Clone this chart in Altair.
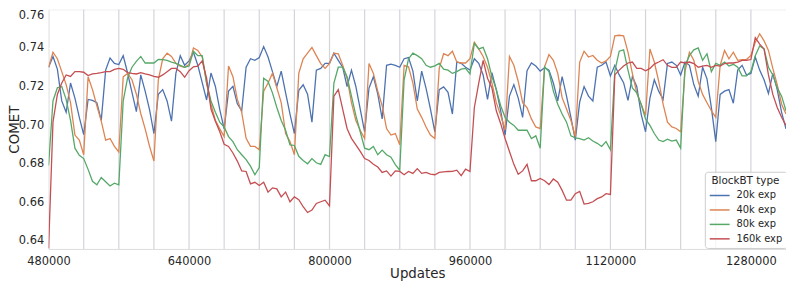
import altair as alt
import pandas as pd

# ---------------- data ----------------
start_update = 480000
step_update = 5000
series_names = ["20k exp", "40k exp", "80k exp", "160k exp"]
series_colors = ["#4c72b0", "#dd8452", "#55a868", "#c44e52"]

blue = [0.730, 0.7356, 0.729, 0.7125, 0.7066, 0.7218, 0.714, 0.704, 0.695,
        0.7133, 0.7128, 0.7116, 0.7024, 0.7285, 0.7348, 0.732, 0.7314,
        0.736, 0.727, 0.717, 0.707, 0.726, 0.7176, 0.708, 0.6956,
        0.716, 0.7184, 0.7125, 0.702, 0.7268, 0.736, 0.731, 0.7333,
        0.7378, 0.731, 0.722, 0.713, 0.727, 0.72, 0.708, 0.698,
        0.7176, 0.7201, 0.711, 0.7074, 0.730, 0.7344, 0.7336, 0.735,
        0.7407, 0.7353, 0.7277, 0.72, 0.728, 0.7167, 0.7057, 0.6956,
        0.718, 0.7209, 0.716, 0.7015, 0.7285, 0.7294, 0.732, 0.732,
        0.7373, 0.7336, 0.730, 0.72, 0.7285, 0.72, 0.7083, 0.6965,
        0.7192, 0.7251, 0.716, 0.7032, 0.731, 0.7316, 0.731, 0.730,
        0.7344, 0.735, 0.728, 0.7125, 0.728, 0.719, 0.7083, 0.6965,
        0.7184, 0.7198, 0.717, 0.7057, 0.7328, 0.732, 0.730, 0.7285,
        0.7344, 0.732, 0.726, 0.7133, 0.7272, 0.7184, 0.7074, 0.6948,
        0.715, 0.721, 0.714, 0.704, 0.7282, 0.7322, 0.7306, 0.728,
        0.7297, 0.7285, 0.7218, 0.7125, 0.7251, 0.715, 0.704, 0.6922,
        0.712, 0.72, 0.715, 0.7125, 0.730, 0.731, 0.7327, 0.7255,
        0.731, 0.726, 0.722, 0.7128, 0.7251, 0.72, 0.7057, 0.6965,
        0.714, 0.7235, 0.7176, 0.7133, 0.732, 0.7327, 0.731, 0.726,
        0.7327, 0.731, 0.721, 0.715, 0.730, 0.724, 0.709, 0.6914,
        0.7159, 0.7176, 0.7184, 0.7113, 0.7285, 0.731, 0.726, 0.7268,
        0.7353, 0.7285, 0.7235, 0.7164, 0.7268, 0.7184, 0.7066, 0.698]

orange = [0.730, 0.7378, 0.7344, 0.7277, 0.721, 0.7116, 0.6948, 0.6922, 0.6846,
          0.7251, 0.7184, 0.71, 0.702, 0.6922, 0.693, 0.6889, 0.686,
          0.725, 0.7268, 0.7235, 0.716, 0.706, 0.698, 0.689, 0.6813,
          0.7235, 0.7344, 0.7373, 0.7356, 0.732, 0.7306, 0.730, 0.7314,
          0.740, 0.7387, 0.7353, 0.7218, 0.7108, 0.7024, 0.698, 0.694,
          0.7306, 0.7251, 0.7133, 0.7066, 0.6931, 0.6889, 0.6889, 0.6872,
          0.7176, 0.7218, 0.7268, 0.7193, 0.7116, 0.6956, 0.6914, 0.6846,
          0.7268, 0.7344, 0.7373, 0.7403, 0.736, 0.7319, 0.7294, 0.732,
          0.7373, 0.737, 0.731, 0.7243, 0.7116, 0.7024, 0.6973, 0.693,
          0.7319, 0.7268, 0.7176, 0.71, 0.6982, 0.6948, 0.6956, 0.6897,
          0.731, 0.7302, 0.7218, 0.7083, 0.704, 0.699, 0.6948, 0.693,
          0.7294, 0.737, 0.736, 0.7383, 0.7327, 0.7322, 0.7322, 0.7344,
          0.7429, 0.7395, 0.7356, 0.730, 0.7218, 0.7116, 0.705, 0.6975,
          0.7356, 0.731, 0.7226, 0.7116, 0.709, 0.7032, 0.699, 0.6982,
          0.7302, 0.7366, 0.7336, 0.7268, 0.7142, 0.7083, 0.7024, 0.694,
          0.7327, 0.7383, 0.7353, 0.7361, 0.7336, 0.7322, 0.7333, 0.7356,
          0.7463, 0.7466, 0.7463, 0.7378, 0.7268, 0.7167, 0.7108, 0.705,
          0.7395, 0.7327, 0.7226, 0.7108, 0.7015, 0.699, 0.6982, 0.6965,
          0.728, 0.7378, 0.7336, 0.7226, 0.7159, 0.7116, 0.7074, 0.704,
          0.731, 0.7387, 0.7344, 0.7378, 0.7336, 0.734, 0.734, 0.7361,
          0.7429, 0.7474, 0.7437, 0.7387, 0.7294, 0.721, 0.7108, 0.7057]

green = [0.679, 0.7125, 0.7193, 0.72, 0.7133, 0.7024, 0.688, 0.6843, 0.6826,
         0.677, 0.6708, 0.669, 0.6728, 0.6706, 0.6684, 0.6698, 0.669,
         0.7125, 0.7245, 0.730, 0.733, 0.7356, 0.7322, 0.7322, 0.7322,
         0.734, 0.7339, 0.7335, 0.7327, 0.732, 0.731, 0.730, 0.7306,
         0.7383, 0.736, 0.736, 0.7218, 0.7125, 0.7066, 0.7015, 0.699,
         0.694, 0.6914, 0.6872, 0.6846, 0.6821, 0.6787, 0.6742, 0.6779,
         0.7243, 0.7226, 0.7167, 0.7091, 0.7024, 0.6973, 0.6897, 0.6894,
         0.6838, 0.6816, 0.6799, 0.6826, 0.6804, 0.6796, 0.6846, 0.6836,
         0.7218, 0.730, 0.730, 0.7251, 0.715, 0.705, 0.6965, 0.688,
         0.6872, 0.6889, 0.6846, 0.687, 0.6846, 0.6833, 0.6795, 0.6766,
         0.7235, 0.7344, 0.7373, 0.736, 0.7344, 0.731, 0.730, 0.7307,
         0.732, 0.729, 0.7285, 0.7268, 0.7277, 0.729, 0.7294, 0.7265,
         0.7424, 0.7395, 0.7403, 0.7344, 0.7251, 0.7184, 0.71, 0.704,
         0.7015, 0.6998, 0.6973, 0.6973, 0.6973, 0.693, 0.6944, 0.688,
         0.7302, 0.7277, 0.7176, 0.7108, 0.7057, 0.7015, 0.6944, 0.6934,
         0.693, 0.6922, 0.6934, 0.6917, 0.6905, 0.6889, 0.6914, 0.6872,
         0.728, 0.7383, 0.739, 0.7285, 0.7193, 0.7167, 0.7108, 0.7032,
         0.6998, 0.6956, 0.6922, 0.6914, 0.6927, 0.6917, 0.6922, 0.688,
         0.731, 0.736, 0.739, 0.740, 0.7336, 0.737, 0.7277, 0.732,
         0.731, 0.7327, 0.7306, 0.7315, 0.730, 0.7255, 0.7255, 0.7277,
         0.736, 0.741, 0.7395, 0.730, 0.726, 0.7193, 0.715, 0.7074]

red = [0.636, 0.7015, 0.7159, 0.7218, 0.726, 0.7252, 0.7277, 0.7277, 0.7274,
       0.7257, 0.7265, 0.7268, 0.7272, 0.7277, 0.7277, 0.7289, 0.7294,
       0.7289, 0.7272, 0.7268, 0.7265, 0.7272, 0.7265, 0.726, 0.7252,
       0.7248, 0.726, 0.7277, 0.7294, 0.7294, 0.7277, 0.7248, 0.7282,
       0.7302, 0.7306, 0.7333, 0.7243, 0.7083, 0.702, 0.6965, 0.69,
       0.6889, 0.6855, 0.6813, 0.6762, 0.6759, 0.6695, 0.6703, 0.6686,
       0.6703, 0.6652, 0.6674, 0.6669, 0.6627, 0.6652, 0.6602, 0.6627,
       0.6613, 0.6576, 0.6546, 0.6559, 0.6593, 0.6602, 0.661, 0.658,
       0.715, 0.7184, 0.7083, 0.6982, 0.6931, 0.6897, 0.6863, 0.6826,
       0.6816, 0.6796, 0.6782, 0.6754, 0.6762, 0.6735, 0.6762, 0.6759,
       0.6742, 0.6759, 0.6749, 0.6774, 0.6749, 0.6754, 0.6745, 0.6742,
       0.6754, 0.6757, 0.6759, 0.676, 0.6766, 0.6737, 0.6771, 0.6759,
       0.7091, 0.7218, 0.7336, 0.7243, 0.7193, 0.7074, 0.7007, 0.693,
       0.6863, 0.6796, 0.6745, 0.6762, 0.6796, 0.6711, 0.6711, 0.6723,
       0.6711, 0.6691, 0.672, 0.6703, 0.6661, 0.661, 0.661, 0.6644,
       0.6656, 0.659, 0.6593, 0.6602, 0.6618, 0.6627, 0.6644, 0.664,
       0.726, 0.7285, 0.7306, 0.7322, 0.7327, 0.7294, 0.7294, 0.7282,
       0.7294, 0.7316, 0.7327, 0.7339, 0.731, 0.7299, 0.7299, 0.7327,
       0.7322, 0.7327, 0.7319, 0.730, 0.7306, 0.731, 0.730, 0.731,
       0.7306, 0.7319, 0.7322, 0.7322, 0.7327, 0.7336, 0.7336, 0.734,
       0.7454, 0.742, 0.7395, 0.726, 0.7159, 0.7091, 0.704, 0.6998]

x_tick_values = [480000, 640000, 800000, 960000, 1120000, 1280000]
y_tick_values = [0.64, 0.66, 0.68, 0.70, 0.72, 0.74, 0.76]
block_boundaries = [520000, 560000, 600000, 640000, 680000, 720000, 760000,
                    800000, 840000, 880000, 920000, 960000, 1000000, 1040000,
                    1080000, 1120000, 1160000, 1200000, 1240000, 1280000]

# ---------------- tables ----------------
rows = []
for name, vals in zip(series_names, [blue, orange, green, red]):
    for i, v in enumerate(vals):
        rows.append({"Updates": start_update + step_update * i,
                     "COMET": v, "BlockBT type": name})
df = pd.DataFrame(rows)
rules_df = pd.DataFrame({"Updates": block_boundaries})

FONT = "DejaVu Sans"
TXT = "#262626"

x_scale = alt.Scale(domain=[480000, 1320000], nice=False, zero=False)
y_scale = alt.Scale(domain=[0.6357, 0.76], nice=False, zero=False)

x_axis = alt.Axis(values=x_tick_values, format="d", grid=False, ticks=False,
                  domain=False, labelFlush=False, labelPadding=7,
                  labelFontSize=11.5, labelColor=TXT, labelFont=FONT,
                  title="Updates", titleFontSize=13.5, titleFont=FONT,
                  titleFontWeight="normal", titleColor=TXT,
                  titleY=25, titleBaseline="middle")
y_axis = alt.Axis(values=y_tick_values, format=".2f", grid=True,
                  gridColor="white", gridWidth=1, ticks=False, domain=False,
                  labelFlush=True, labelPadding=5, labelFontSize=11.5,
                  labelColor=TXT, labelFont=FONT,
                  title="COMET", titleFontSize=13.5, titleFont=FONT,
                  titleFontWeight="normal", titleColor=TXT,
                  titleX=-34, titleBaseline="middle")

X = alt.X("Updates:Q", scale=x_scale, axis=x_axis)
Y = alt.Y("COMET:Q", scale=y_scale, axis=y_axis)

color = alt.Color(
    "BlockBT type:N",
    scale=alt.Scale(domain=series_names, range=series_colors),
    legend=alt.Legend(
        orient="none", legendX=663, legendY=164,
        title="BlockBT type", titleFontSize=10.5, titleFont=FONT,
        titleFontWeight="normal", titleColor=TXT, titleAnchor="middle",
        titlePadding=1.5,
        labelFontSize=10, labelFont=FONT, labelColor=TXT, labelOffset=9,
        symbolType="M-1.42,0H1.42", symbolSize=200, symbolStrokeWidth=1.5,
        symbolOffset=3, rowPadding=1.6, padding=4,
        fillColor="rgba(255,255,255,0.8)", strokeColor="#cccccc",
        cornerRadius=3,
    ),
)

rules = alt.Chart(rules_df).mark_rule(color="#d4d4db", strokeWidth=1.2).encode(
    x=X
)

line_layers = [
    alt.Chart(df[df["BlockBT type"] == name])
    .mark_line(strokeWidth=1.3, clip=True)
    .encode(x=X, y=Y, color=color)
    for name in series_names
]

chart = (
    alt.layer(rules, *line_layers)
    .properties(width=745, height=242, autosize="none",
                padding={"left": 41, "top": 0, "right": 0, "bottom": 36})
    .configure_view(fill="#eaeaf2", strokeWidth=0)
    .configure(background="white")
)

chart.save("out.html", embed_options={"renderer": "svg", "actions": False})
